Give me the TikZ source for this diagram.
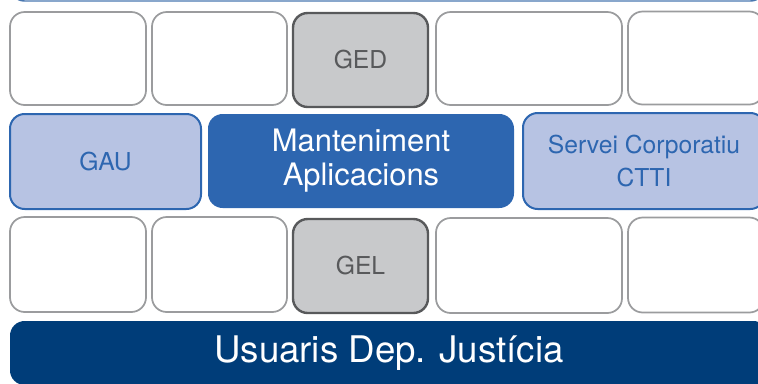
\documentclass[tikz,border=0pt]{standalone}
\usepackage{fontspec}
\setmainfont{TeX Gyre Heros}
\definecolor{cellline}{RGB}{155,156,158}
\definecolor{gedfill}{RGB}{200,201,203}
\definecolor{gedline}{RGB}{88,89,91}
\definecolor{gaufill}{RGB}{183,195,227}
\definecolor{midblue}{RGB}{45,102,176}
\definecolor{navy}{RGB}{0,61,121}
\definecolor{topline}{RGB}{74,120,176}

\begin{document}
\begin{tikzpicture}[x=0.75pt,y=0.75pt,yscale=-1,xscale=1,
  cell/.style={draw=cellline,line width=1.3pt,fill=white,rounded corners=11pt,inner sep=0pt},
  grisbox/.style={cell,draw=gedline,line width=1.8pt,fill=gedfill,text=gedline,font=\fontsize{18.5}{24}\selectfont},
  lightbox/.style={cell,draw=midblue,line width=1.5pt,fill=gaufill,text=midblue,align=center,font=\fontsize{18.5}{25}\selectfont},
  darkbox/.style={cell,draw=none,fill=midblue,text=white,align=center,font=\fontsize{23.2}{25.5}\selectfont},
  userbar/.style={cell,draw=none,fill=navy,text=white,font=\fontsize{27.5}{30}\selectfont}]
\clip (0,0) rectangle (758,383);

%Shape: box above (cut off)
\draw [color=topline,line width=1.1pt,rounded corners=11pt] (10,-80) rectangle (765,1);

%Top row
\node [cell,minimum width=102pt,minimum height=69.75pt] (t1) at (78,58.5) {};
\node [cell,minimum width=101.25pt,minimum height=69.75pt] (t2) at (219.5,58.5) {};
\node [grisbox,minimum width=101.25pt,minimum height=70.5pt] (ged) at (360.5,60) {GED};
\node [cell,minimum width=139.5pt,minimum height=69.75pt] (t4) at (529,58.5) {};
\node [cell,minimum width=102pt,minimum height=69.75pt] (t5) at (696,58) {};

%Middle row
\node [lightbox,minimum width=143.25pt,minimum height=71.25pt] (gau) at (105.5,161.5) {GAU};
\node [darkbox,minimum width=229.5pt,minimum height=70.5pt] (mant) at (361,161) {Manteniment\\Aplicacions};
\node [lightbox,minimum width=181.5pt,minimum height=72pt] (ctti) at (644,161) {Servei Corporatiu\\CTTI};

%Bottom row
\node [cell,minimum width=102pt,minimum height=71.25pt] (b1) at (78,264.5) {};
\node [cell,minimum width=101.25pt,minimum height=71.25pt] (b2) at (219.5,264.5) {};
\node [grisbox,minimum width=101.25pt,minimum height=70.5pt] (gel) at (360.5,266) {GEL};
\node [cell,minimum width=139.5pt,minimum height=71.25pt] (b4) at (529,265.5) {};
\node [cell,minimum width=102pt,minimum height=71.25pt] (b5) at (696,265) {};

%Users bar
\node [userbar,minimum width=568.5pt,minimum height=48pt] (usuaris) at (389,353) {Usuaris Dep. Justícia};

\end{tikzpicture}
\end{document}
